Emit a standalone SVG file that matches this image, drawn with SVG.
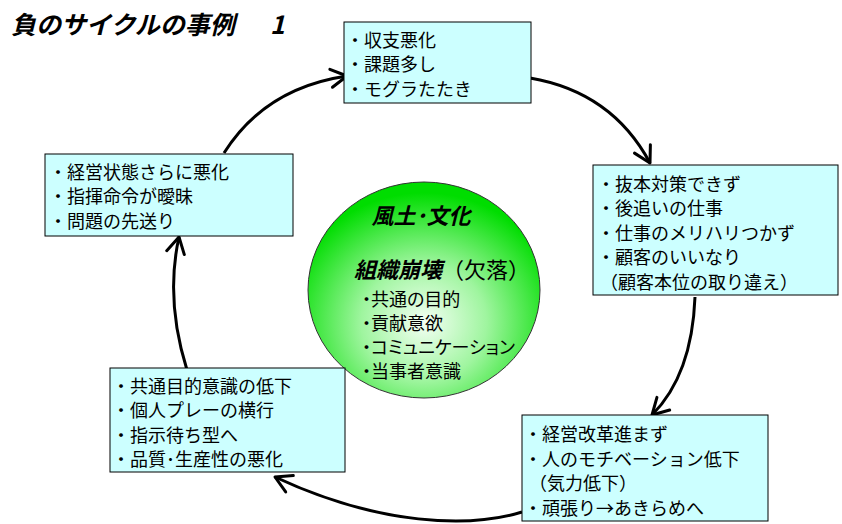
<svg xmlns="http://www.w3.org/2000/svg" width="842" height="524" viewBox="0 0 842 524">
<style>
.box{fill:#ccffff;stroke:#000;stroke-width:1}
.t{font-family:"Noto Sans CJK JP","Noto Sans CJK SC",sans-serif;font-size:18px;fill:#000}
.p{font-feature-settings:"palt"}
.bi{font-weight:bold;font-style:italic}
.arr{fill:none;stroke:#000;stroke-width:3}
</style>
<defs>
<marker id="ah" markerUnits="userSpaceOnUse" markerWidth="24" markerHeight="24" viewBox="0 0 24 24" refX="21" refY="12" orient="auto">
<path d="M5,3 L21,12 L5,21" fill="none" stroke="#000" stroke-width="3" stroke-linecap="round" stroke-linejoin="round"/>
</marker>
<radialGradient id="g" cx="50%" cy="65%" r="60%">
<stop offset="0" stop-color="#f4fff4"/>
<stop offset="0.45" stop-color="#9ff59f"/>
<stop offset="1" stop-color="#00dd00"/>
</radialGradient>
</defs>
<rect width="842" height="524" fill="#fff"/>
<text class="t bi" x="11" y="34" style="font-size:25px">負のサイクルの事例<tspan x="270">1</tspan></text>
<g id="connectors">
<path class="arr" d="M224,153 Q265,88 347,76" marker-end="url(#ah)"/>
<path class="arr" d="M530,78 Q612,92 650,163" marker-end="url(#ah)"/>
<path class="arr" d="M695,297 Q692,375 652,415" marker-end="url(#ah)"/>
<path class="arr" d="M522,512 C470,528 380,526 275,477" marker-end="url(#ah)"/>
<path class="arr" d="M187,370 Q165,300 179,237" marker-end="url(#ah)"/>
</g>
<g id="center">
<ellipse cx="424" cy="290" rx="116" ry="108" fill="url(#g)" stroke="#333" stroke-width="1"/>
<text class="t bi" x="421" y="224" text-anchor="middle" style="font-size:22px">風土･文化</text>
<text class="t" x="354" y="278" style="font-size:22px"><tspan class="bi">組織崩壊</tspan>（欠落）</text>
<text class="t p" x="362" y="306">・共通の目的</text>
<text class="t p" x="362" y="330">・貢献意欲</text>
<text class="t p" x="362" y="354">・コミュニケーション</text>
<text class="t p" x="362" y="378">・当事者意識</text>
</g>
<g id="top">
<rect class="box" x="344" y="22" width="187" height="81"/>
<text class="t" x="346" y="47">・収支悪化</text>
<text class="t" x="346" y="71">・課題多し</text>
<text class="t" x="346" y="96">・モグラたたき</text>
</g>
<g id="right">
<rect class="box" x="593" y="165" width="245" height="130"/>
<text class="t" x="597" y="191">・抜本対策できず</text>
<text class="t" x="597" y="215">・後追いの仕事</text>
<text class="t" x="597" y="240">・仕事のメリハリつかず</text>
<text class="t" x="597" y="264">・顧客のいいなり</text>
<text class="t" x="600" y="289">（顧客本位の取り違え）</text>
</g>
<g id="bottomright">
<rect class="box" x="522" y="415" width="246" height="106"/>
<text class="t" x="524" y="441">・経営改革進まず</text>
<text class="t" x="524" y="466">・人のモチベーション低下</text>
<text class="t" x="529" y="490">（気力低下）</text>
<text class="t" x="524" y="515">・頑張り→あきらめへ</text>
</g>
<g id="bottomleft">
<rect class="box" x="110" y="368" width="235" height="104"/>
<text class="t" x="112" y="393">・共通目的意識の低下</text>
<text class="t" x="112" y="417">・個人プレーの横行</text>
<text class="t" x="112" y="442">・指示待ち型へ</text>
<text class="t" x="112" y="466">・品質･生産性の悪化</text>
</g>
<g id="lefttop">
<rect class="box" x="45" y="154" width="248" height="82"/>
<text class="t" x="49" y="179">・経営状態さらに悪化</text>
<text class="t" x="49" y="203">・指揮命令が曖昧</text>
<text class="t" x="49" y="228">・問題の先送り</text>
</g>
</svg>
